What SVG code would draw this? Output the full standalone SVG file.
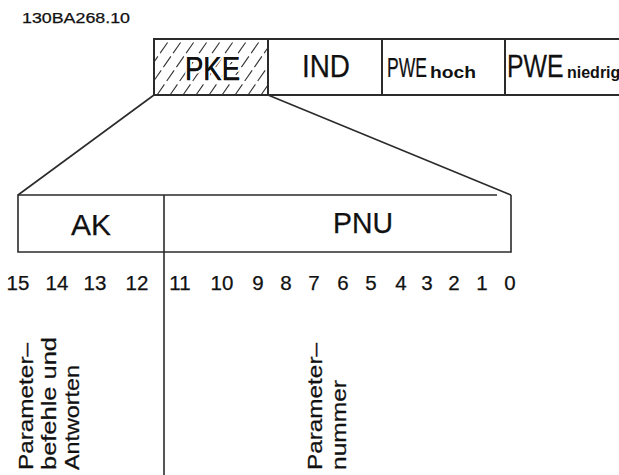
<svg xmlns="http://www.w3.org/2000/svg" width="619" height="475" viewBox="0 0 619 475">
<style>
.t{font-family:"Liberation Sans",Arial,sans-serif;fill:#111;stroke:#111;stroke-width:0.25}
.ln{stroke:#2b2b2b;stroke-width:1.6;fill:none}
.bx{stroke:#2b2b2b;stroke-width:2;fill:none}
.hatch{stroke:#333;stroke-width:1.1;fill:none;stroke-dasharray:13 4}
.halo{stroke:#fff;stroke-width:5;paint-order:stroke;stroke-linejoin:round}
.sub{font-size:16px;font-weight:bold;stroke-width:0}
</style>
<defs>
<clipPath id="pkeclip"><rect x="154" y="39" width="114" height="56"/></clipPath>
</defs>
<rect width="619" height="475" fill="#fff"/>
<text class="t" x="22" y="23" font-size="14" stroke-width="0.15" textLength="108" lengthAdjust="spacingAndGlyphs">130BA268.10</text>

<g id="node-pke">
<g clip-path="url(#pkeclip)">
<path class="hatch" d="M118,95L157,39M131,95L170,39M144,95L183,39M157,95L196,39M170,95L209,39M183,95L222,39M196,95L235,39M209,95L248,39M222,95L261,39M235,95L274,39M248,95L287,39M261,95L300,39"/>
</g>
<rect class="bx" x="154" y="39" width="114" height="56"/>
<text class="t halo" x="185" y="80" font-size="34" textLength="55" lengthAdjust="spacingAndGlyphs">PKE</text>
<text class="t" x="185" y="80" font-size="34" textLength="55" lengthAdjust="spacingAndGlyphs">PKE</text>
</g>
<g id="node-ind">
<rect class="bx" x="268" y="39" width="114" height="56"/>
<text class="t" x="302" y="77" font-size="31" textLength="48" lengthAdjust="spacingAndGlyphs">IND</text>
</g>
<g id="node-pwe-hoch">
<rect class="bx" x="382" y="39" width="123" height="56"/>
<text class="t" transform="translate(387,77) scale(0.65,1)" font-size="27">PWE</text>
<text class="t sub" x="430" y="78" textLength="46" lengthAdjust="spacingAndGlyphs">hoch</text>
</g>
<g id="node-pwe-niedrig">
<path class="bx" d="M505,39H621M505,95H621"/>
<text class="t" transform="translate(507,77) scale(0.8,1)" font-size="31">PWE</text>
<text class="t sub" x="567" y="78">niedrig</text>
</g>

<g id="node-ak">
<path class="ln" d="M164,195H18V252H164"/>
<text class="t" x="91" y="235" font-size="30" text-anchor="middle">AK</text>
</g>
<g id="node-pnu">
<path class="ln" d="M164,195H497M511,195V252H164"/>
<text class="t" x="333" y="233" font-size="29" textLength="60" lengthAdjust="spacingAndGlyphs">PNU</text>
</g>

<g id="connectors">
<path class="ln" d="M154,95L18,195"/>
<path class="ln" d="M268,95L511,195"/>
<path class="ln" d="M164,195V475"/>
</g>

<g id="bits" class="t" font-size="20.5" text-anchor="middle">
<text x="18" y="290">15</text>
<text x="57" y="290">14</text>
<text x="95" y="290">13</text>
<text x="137" y="290">12</text>
<text x="180" y="290">11</text>
<text x="222" y="290">10</text>
<text x="258" y="290">9</text>
<text x="286" y="290">8</text>
<text x="314" y="290">7</text>
<text x="343" y="290">6</text>
<text x="371" y="290">5</text>
<text x="401" y="290">4</text>
<text x="427" y="290">3</text>
<text x="454" y="290">2</text>
<text x="482" y="290">1</text>
<text x="510" y="290">0</text>
</g>

<g id="label-ak" class="t" font-size="21">
<text transform="translate(33,470) rotate(-90)" textLength="127" lengthAdjust="spacingAndGlyphs">Parameter–</text>
<text transform="translate(55.5,470) rotate(-90)" textLength="133" lengthAdjust="spacingAndGlyphs">befehle und</text>
<text transform="translate(78.5,470) rotate(-90)" textLength="105" lengthAdjust="spacingAndGlyphs">Antworten</text>
</g>
<g id="label-pnu" class="t" font-size="21">
<text transform="translate(322,470) rotate(-90)" textLength="127" lengthAdjust="spacingAndGlyphs">Parameter–</text>
<text transform="translate(346,470) rotate(-90)" textLength="90" lengthAdjust="spacingAndGlyphs">nummer</text>
</g>
</svg>
